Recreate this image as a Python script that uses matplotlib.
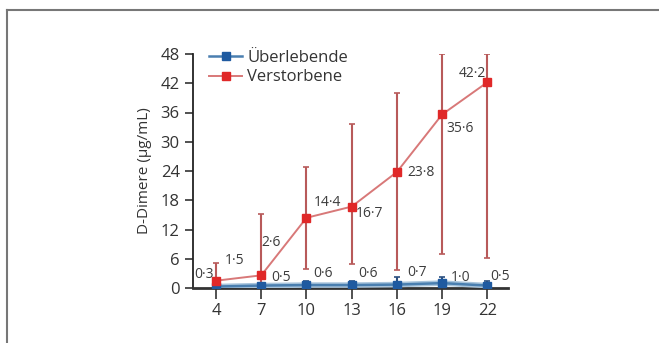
import matplotlib
matplotlib.use("Agg")
import matplotlib.pyplot as plt
from matplotlib.lines import Line2D

days = [4, 7, 10, 13, 16, 19, 22]
surv = [0.3, 0.5, 0.6, 0.6, 0.7, 1.0, 0.5]
surv_lo = [0.0, 0.0, 0.0, 0.0, 0.0, 0.0, 0.0]
surv_hi = [0.8, 1.0, 1.4, 1.4, 2.3, 2.3, 1.4]
dead = [1.5, 2.6, 14.4, 16.7, 23.8, 35.6, 42.2]
dead_lo = [0.0, 0.0, 4.0, 4.9, 3.7, 6.9, 6.1]
dead_hi = [5.2, 15.2, 24.8, 33.6, 40.1, 48.0, 48.0]
yticks = [0, 6, 12, 18, 24, 30, 36, 42, 48]
surv_lbl = ["0·3", "0·5", "0·6", "0·6", "0·7", "1·0", "0·5"]
dead_lbl = ["1·5", "2·6", "14·4", "16·7", "23·8", "35·6", "42·2"]
surv_off = [(-12, 12), (20, 8), (17, 12), (16, 12), (20, 12), (18, 6), (13, 9)]
dead_off = [(19, 20), (10, 33), (21, 15), (18, -7), (24, -1), (18, -14), (-15, 9)]

plt.rcParams['font.family'] = ['Open Sans', 'DejaVu Sans']
fig = plt.figure(figsize=(6.59, 3.43), dpi=100)
ax = fig.add_axes([193/659, 1-288/343, (508-193)/659, (288-54)/343])

red = '#e02828'
redline = '#d87878'
errred = '#b85a5a'
blue = '#1f5aa0'
blueline = '#4a7fb0'
txt = '#3c3c3c'

yerr_d = [[m - l for m, l in zip(dead, dead_lo)], [h - m for m, h in zip(dead, dead_hi)]]
yerr_s = [[m - l for m, l in zip(surv, surv_lo)], [h - m for m, h in zip(surv, surv_hi)]]

ax.errorbar(days, surv, yerr=yerr_s, fmt='none', ecolor='#2a4f80', elinewidth=1.5, capsize=2, capthick=1.2, zorder=2)
ax.plot(days, surv, color='#a8c4dc', lw=4.0, zorder=3)
ax.plot(days, surv, color=blueline, lw=1.8, marker='s', ms=6, mfc=blue, mec=blue, zorder=4, label='Überlebende')
ax.errorbar(days, dead, yerr=yerr_d, fmt='none', ecolor=errred, elinewidth=1.5, capsize=2, capthick=1.2, zorder=2)
ax.plot(days, dead, color=redline, lw=1.4, marker='s', ms=6, mfc=red, mec=red, zorder=5, label='Verstorbene')

for x, y, s, o in zip(days, dead, dead_lbl, dead_off):
    ax.annotate(s, (x, y), xytext=o, textcoords='offset pixels', ha='center', va='center',
                fontsize=10, color=txt, zorder=6)
for x, y, s, o in zip(days, surv, surv_lbl, surv_off):
    ax.annotate(s, (x, y), xytext=o, textcoords='offset pixels', ha='center', va='center',
                fontsize=10, color=txt, zorder=6)

ax.set_xlim(2.47, 23.37)
ax.set_ylim(0, 48)
ax.set_xticks(days)
ax.set_yticks(yticks)
ax.tick_params(axis='both', labelsize=12, colors='#333333', length=6, width=1.2, direction='out')
ax.tick_params(axis='x', length=8, pad=3)
for sp in ['top', 'right']:
    ax.spines[sp].set_visible(False)
ax.spines['left'].set_linewidth(1.3)
ax.spines['left'].set_color('#222222')
ax.spines['bottom'].set_linewidth(2.0)
ax.spines['bottom'].set_color('#333333')
ax.set_ylabel('D-Dimere (µg/mL)', fontsize=11, color='#333333', labelpad=6)

leg = ax.legend(loc='upper left', bbox_to_anchor=(0.03, 1.045), frameon=False, fontsize=12,
                handlelength=2.0, handletextpad=0.3, labelspacing=0.2, borderaxespad=0)
for t in leg.get_texts():
    t.set_color('#333333')

fig.add_artist(Line2D([7/659, 7/659], [0, 1 - 10/343], transform=fig.transFigure, color='#777777', lw=1.5))
fig.add_artist(Line2D([7/659, 1], [1 - 10/343, 1 - 10/343], transform=fig.transFigure, color='#777777', lw=1.5))

fig.savefig('out.png', dpi=100)
